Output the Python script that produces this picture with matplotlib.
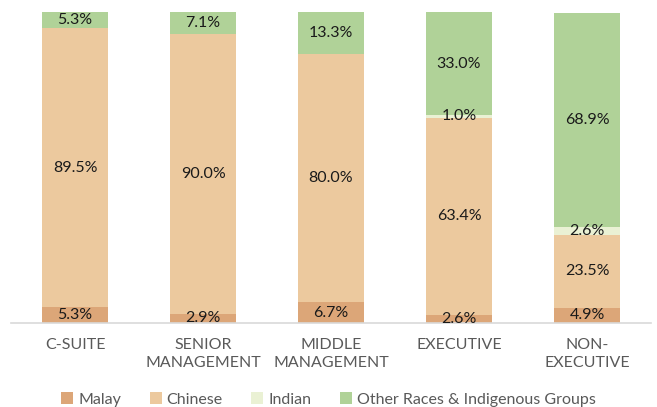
import matplotlib.pyplot as plt
import numpy as np

plt.rcParams['font.family'] = ['Lato', 'DejaVu Sans']

categories = ['C-SUITE', 'SENIOR\nMANAGEMENT', 'MIDDLE\nMANAGEMENT', 'EXECUTIVE', 'NON-\nEXECUTIVE']
groups = ['Malay', 'Chinese', 'Indian', 'Other Races & Indigenous Groups']
malay = [5.3, 2.9, 6.7, 2.6, 4.9]
chinese = [89.5, 90.0, 80.0, 63.4, 23.5]
indian = [0.0, 0.0, 0.0, 1.0, 2.6]
other = [5.3, 7.1, 13.3, 33.0, 68.9]
colors = ['#DCA678', '#ECC99E', '#EAF1D4', '#B0D298']

fig = plt.figure(figsize=(6.57, 4.07), dpi=100)
ax = fig.add_axes([11 / 657, 84 / 407, 640 / 657, 311 / 407])

x = np.arange(len(categories))
bottom = np.zeros(len(categories))
for name, vals, col in zip(groups, [malay, chinese, indian, other], colors):
    vals = np.array(vals)
    ax.bar(x, vals, width=0.51, bottom=bottom, color=col, label=name)
    for xi, b, v in zip(x, bottom, vals):
        if v > 0:
            ax.text(xi, b + v / 2, f'{v:.1f}%', ha='center', va='center',
                    fontsize=11.5, color='#1a1a1a')
    bottom += vals

ax.set_xlim(-0.5, len(categories) - 0.5)
ax.set_ylim(0, sum([malay[0], chinese[0], indian[0], other[0]]))
ax.set_yticks([])
ax.set_xticks(x)
ax.set_xticklabels(categories, fontsize=11.5, color='#595959', linespacing=1.35)
ax.tick_params(axis='x', length=0, pad=11)
for s in ['top', 'right', 'left']:
    ax.spines[s].set_visible(False)
ax.spines['bottom'].set_color('#D9D9D9')
ax.spines['bottom'].set_linewidth(1.2)

fig.legend(loc='lower center', ncol=4, frameon=False, fontsize=11.5,
           handlelength=0.75, handleheight=0.75, handletextpad=0.3,
           columnspacing=1.8, bbox_to_anchor=(0.5, -0.035), labelcolor='#595959')

fig.savefig('out.png', dpi=100)
